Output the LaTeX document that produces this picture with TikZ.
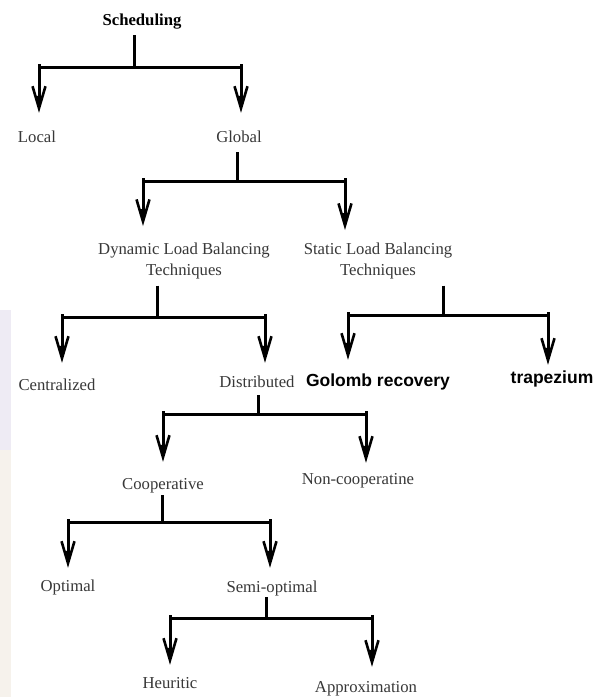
\documentclass[tikz,border=0pt]{standalone}
\usepackage{fontspec}
\setmainfont{Liberation Serif}
\newfontfamily\lblsans{Liberation Sans}
\usetikzlibrary{arrows.meta}
\definecolor{lavwm}{HTML}{EEEBF4}
\definecolor{beigewm}{HTML}{F6F2EC}
\begin{document}
\begin{tikzpicture}[x=1pt,y=-1pt,
  lbl/.style={inner sep=0pt, anchor=base, text=black!78,
    font=\fontsize{16.7}{21}\selectfont, text height=11pt, text depth=4pt},
  lbltwo/.style={inner sep=0pt, anchor=north, text=black!78,
    font=\fontsize{16.7}{21}\selectfont, align=center},
  headlbl/.style={lbl, text=black, font=\fontsize{16.7}{21}\selectfont\bfseries},
  sanslbl/.style={lbl, text=black, font=\fontsize{17.5}{21}\selectfont\lblsans\bfseries, text height=13pt},
  ln/.style={line width=3pt},
  arr/.style={ln, -{Triangle[length=11pt,width=6pt,sep=-22pt]Straight Barb[length=22pt,width=13pt,line width=2.6pt]}}
]
\useasboundingbox (0,0) rectangle (599,697);
\fill[white] (0,0) rectangle (599,697);
% faint watermark strip on the left edge
\fill[lavwm] (0,310) rectangle (11,450);
\fill[beigewm] (0,450) rectangle (11,697);

% ---------- nodes ----------
\node[headlbl] (sched) at (142,25) {Scheduling};
\node[lbl] (local)  at (37,142)  {Local};
\node[lbl] (global) at (239,142) {Global};
\node[lbltwo] (dyn) at (184,242.6) {Dynamic Load Balancing\\Techniques};
\node[lbltwo] (stat) at (378,242.6) {Static Load Balancing\\Techniques};
\node[lbl] (central) at (57,390)  {Centralized};
\node[lbl] (distr)   at (257,387) {Distributed};
\node[sanslbl] (golomb) at (378,386) {Golomb recovery};
\node[sanslbl] (trap)   at (552,383) {trapezium};
\node[lbl] (coop)    at (163,489) {Cooperative};
\node[lbl] (noncoop) at (358,484) {Non-cooperatine};
\node[lbl] (optimal) at (68,591)  {Optimal};
\node[lbl] (semi)    at (272,592) {Semi-optimal};
\node[lbl] (heur)    at (170,688) {Heuritic};
\node[lbl] (approx)  at (366,692) {Approximation};

% ---------- junctions and bar ends ----------
\coordinate (j1) at (134,67);  \coordinate (b1l) at (39,67);   \coordinate (b1r) at (241,67);
\coordinate (j2) at (237,181); \coordinate (b2l) at (143,181); \coordinate (b2r) at (345,181);
\coordinate (j3) at (157,317); \coordinate (b3l) at (62,317);  \coordinate (b3r) at (265,317);
\coordinate (j4) at (443,315); \coordinate (b4l) at (348,315); \coordinate (b4r) at (548,315);
\coordinate (j5) at (258,414); \coordinate (b5l) at (163,414); \coordinate (b5r) at (366,414);
\coordinate (j6) at (162,522); \coordinate (b6l) at (68,522);  \coordinate (b6r) at (270,522);
\coordinate (j7) at (266,618); \coordinate (b7l) at (170,618); \coordinate (b7r) at (372,618);

% ---------- stems ----------
\draw[ln, shorten <=6pt]   (j1 |- sched.south)  -- (j1);
\draw[ln, shorten <=6pt]   (j2 |- global.south) -- (j2);
\draw[ln, shorten <=6.4pt] (j3 |- dyn.south)    -- (j3);
\draw[ln, shorten <=6.4pt] (j4 |- stat.south)   -- (j4);
\draw[ln, shorten <=4pt]   (j5 |- distr.south)  -- (j5);
\draw[ln, shorten <=2pt]   (j6 |- coop.south)   -- (j6);
\draw[ln, shorten <=1pt]   (j7 |- semi.south)   -- (j7);

% ---------- bars ----------
\draw[ln] (b1l) -- (b1r);
\draw[ln] (b2l) -- (b2r);
\draw[ln] (b3l) -- (b3r);
\draw[ln] (b4l) -- (b4r);
\draw[ln] (b5l) -- (b5r);
\draw[ln] (b6l) -- (b6r);
\draw[ln] (b7l) -- (b7r);

% ---------- arrows ----------
\draw[arr, shorten >=18pt]   ([yshift=3pt]b1l) -- (b1l |- local.north);
\draw[arr, shorten >=18pt]   ([yshift=3pt]b1r) -- (b1r |- global.north);
\draw[arr, shorten >=16.6pt] ([yshift=3pt]b2l) -- (b2l |- dyn.north);
\draw[arr, shorten >=12.6pt] ([yshift=3pt]b2r) -- (b2r |- stat.north);
\draw[arr, shorten >=16pt]   ([yshift=3pt]b3l) -- (b3l |- central.north);
\draw[arr, shorten >=13pt]   ([yshift=3pt]b3r) -- (b3r |- distr.north);
\draw[arr, shorten >=13pt]   ([yshift=3pt]b4l) -- (b4l |- golomb.north);
\draw[arr, shorten >=5pt]    ([yshift=3pt]b4r) -- (b4r |- trap.north);
\draw[arr, shorten >=16pt]   ([yshift=3pt]b5l) -- (b5l |- coop.north);
\draw[arr, shorten >=10pt]   ([yshift=3pt]b5r) -- (b5r |- noncoop.north);
\draw[arr, shorten >=12pt]   ([yshift=3pt]b6l) -- (b6l |- optimal.north);
\draw[arr, shorten >=13pt]   ([yshift=3pt]b6r) -- (b6r |- semi.north);
\draw[arr, shorten >=12pt]   ([yshift=3pt]b7l) -- (b7l |- heur.north);
\draw[arr, shorten >=14pt]   ([yshift=3pt]b7r) -- (b7r |- approx.north);
\end{tikzpicture}
\end{document}
